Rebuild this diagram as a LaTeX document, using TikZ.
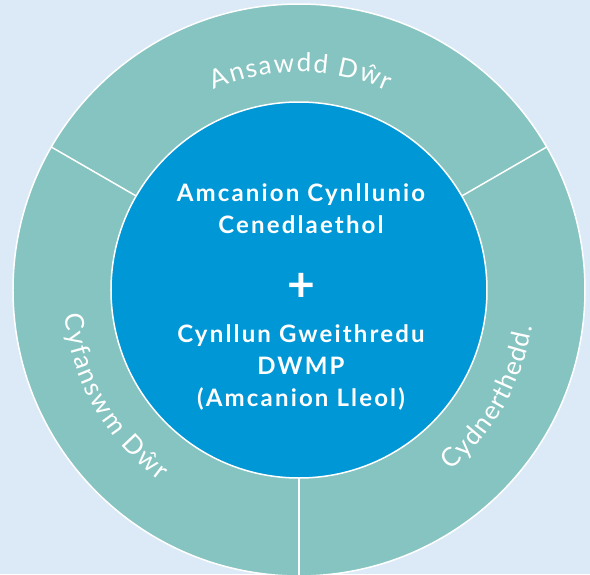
\documentclass[tikz,border=0pt]{standalone}
\usepackage{fontspec}
\setmainfont{Lato}
\newfontfamily\ringfont{Lato}
\newfontfamily\hubfont[LetterSpace=9]{Lato}
\newcommand\ringsize{\fontsize{26}{26}\selectfont}
\usepackage{xcolor}
\usetikzlibrary{
    positioning,
    decorations.text
}
\definecolor{paleblue}{HTML}{DCEAF8}
\definecolor{ringteal}{HTML}{86C4C1}
\definecolor{hubblue}{HTML}{0097D6}
\tikzset{
  backdrop/.style = {
      fill=paleblue
  },
  ring/.style = {
      fill=ringteal,
      draw=white,
      line width=1.5pt
  },
  divider/.style = {
      draw=white,
      line width=1.5pt
  },
  hub/.style = {
      circle,
      fill=hubblue,
      draw=white,
      line width=1.5pt,
      minimum size=376pt,
      inner sep=0pt
  },
  goal/.style = {
      text=white,
      align=center,
      font=\hubfont\bfseries\fontsize{24}{32}\selectfont
  },
  plus sign/.style = {
      text=white,
      inner sep=0pt,
      font=\hubfont\bfseries\fontsize{48}{48}\selectfont
  },
  arc label/.style = {
      decorate,
      decoration={
          text effects along path,
          text={#1},
          text effects/.cd,
              text along path,
              fit text to path,
              characters={
                  text=white,
                  inner sep=0pt,
                  font=\ringfont\ringsize
              }
      }
  }
}

\begin{document}
\begin{tikzpicture}[x=1pt, y=1pt]
    % Background
    \useasboundingbox[backdrop] (-299,-284) rectangle (291,290);
    % Ring
    \path[ring] (0,0) circle (286pt);
    \foreach \ang in {30,150,270}
        \path[divider] (\ang:188) -- (\ang:286);
    % Nodes
    \node[hub] (hub) at (0,0) {};
    \node[goal] (national) at (2,81) {Amcanion Cynllunio\\Cenedlaethol};
    \node[plus sign] (plus) at (2,3) {+};
    \node[goal] (local) at (2,-77) {Cynllun Gweithredu\\DWMP\\(Amcanion Lleol)};
    % Ring labels
    \path[arc label={Ansawdd Dŵr}] (113:218) arc[start angle=113, end angle=66, radius=218];
    \path[arc label={Cyfanswm Dŵr}] (186:236) arc[start angle=186, end angle=234, radius=236];
    \path[arc label={Cydnerthedd.}] (310:236) arc[start angle=310, end angle=351, radius=236];
\end{tikzpicture}
\end{document}
